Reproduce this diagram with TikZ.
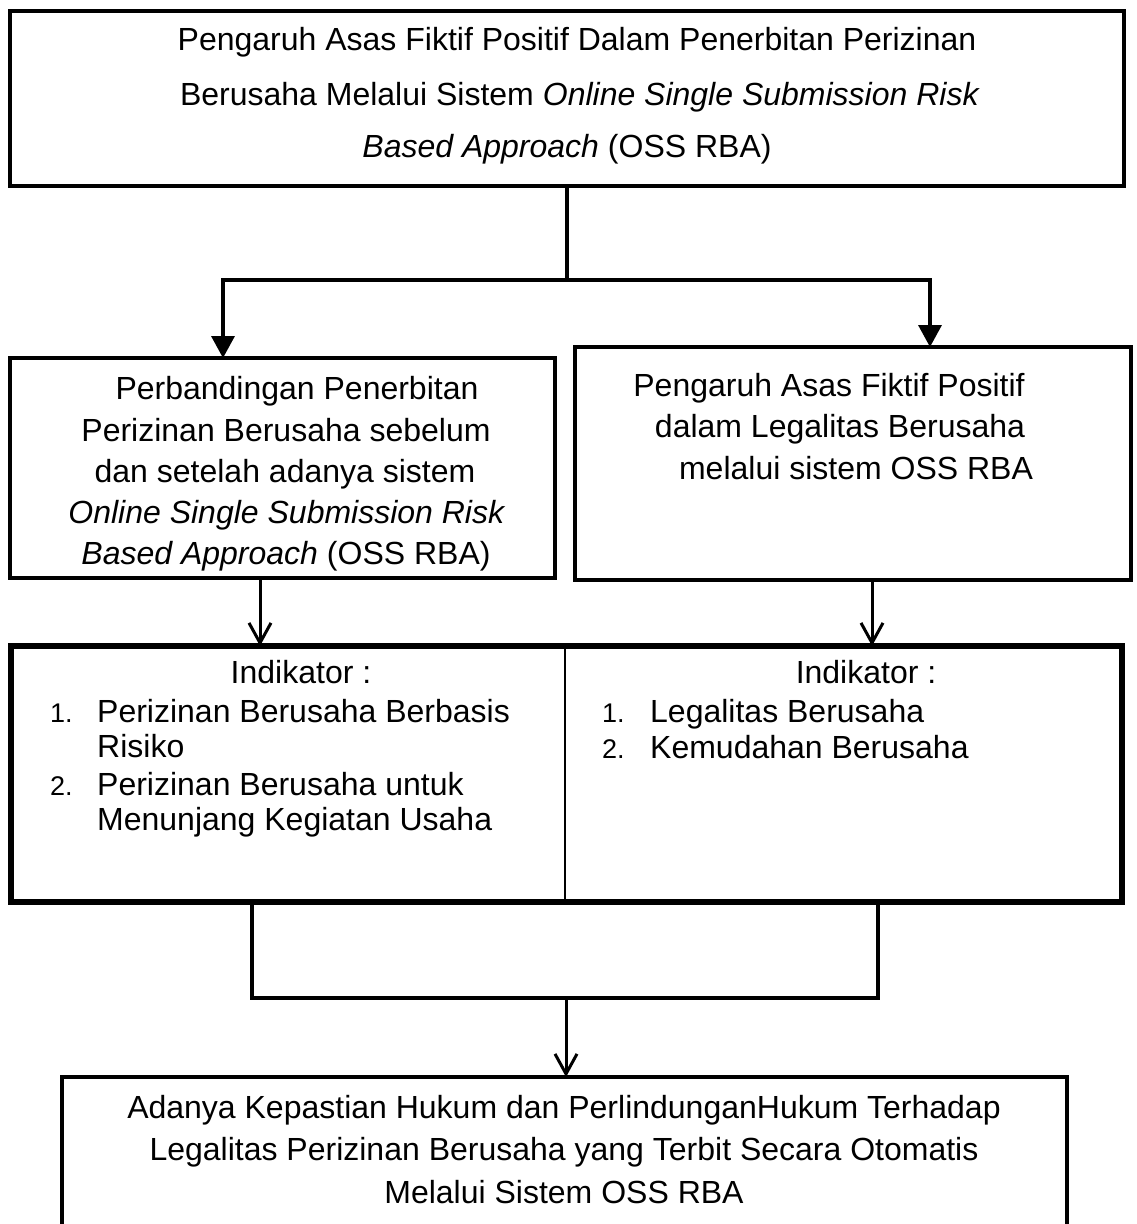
\documentclass[tikz,border=0pt]{standalone}
\usepackage{fontspec}
\setmainfont{Liberation Sans}
\usetikzlibrary{arrows.meta}
\begin{document}
\begin{tikzpicture}[x=1pt,y=-1pt,
  box/.style={draw, line width=3.5pt, inner sep=0pt, outer sep=0pt},
  txt/.style={inner sep=0pt, font=\fontsize{32}{41.5}\selectfont},
  numtxt/.style={inner sep=0pt, font=\fontsize{27}{35}\selectfont},
  conn/.style={line width=3.5pt},
  tri/.style={{Triangle[length=22pt,width=23pt]}-{Triangle[length=22pt,width=23pt]}},
  barb/.style={line width=3pt, -{Straight Barb[length=20pt,width=22pt]}}]
\useasboundingbox (0,0) rectangle (1136,1224);
\clip (0,0) rectangle (1136,1224);

% top box
\node[box, line width=4pt, minimum width=1114pt, minimum height=175pt] (top) at (567,98.5) {};
\node[txt, anchor=base] (t1) at (577,50) {Pengaruh Asas Fiktif Positif Dalam Penerbitan Perizinan};
\node[txt, anchor=base] (t2) at (580,105) {Berusaha Melalui Sistem \textit{Online Single Submission Risk}};
\node[txt, anchor=base] (t3) at (567,157) {\textit{Based Approach} (OSS RBA)};

% middle boxes
\node[box, minimum width=545pt, minimum height=220pt] (midL) at (282.5,468) {};
\node[box, minimum width=556pt, minimum height=233pt] (midR) at (853,463.5) {};
\node[txt, anchor=base] (tL1) at (297,399) {Perbandingan Penerbitan};
\node[txt, anchor=base] (tL2) at (286,441) {Perizinan Berusaha sebelum};
\node[txt, anchor=base] (tL3) at (285,482) {dan setelah adanya sistem};
\node[txt, anchor=base] (tL4) at (287,523) {\textit{Online Single Submission Risk}};
\node[txt, anchor=base] (tL5) at (286,564) {\textit{Based Approach} (OSS RBA)};
\node[txt, anchor=base] (tR1) at (829,396) {Pengaruh Asas Fiktif Positif};
\node[txt, anchor=base] (tR2) at (840,437.5) {dalam Legalitas Berusaha};
\node[txt, anchor=base] (tR3) at (856,479) {melalui sistem OSS RBA};

% connectors from top
\coordinate (jl) at (223,280);
\coordinate (jr) at (930,280);
\draw[conn] (top.south) -- (top.south |- jl);
\draw[conn, tri] (jl |- midL.north) -- (jl) -- (jr) -- (jr |- midR.north);

% indicator box
\node[box, line width=6pt, minimum width=1111pt, minimum height=256pt] (ind) at (566.5,774) {};
\coordinate (dv) at (565,0);
\draw[line width=2pt] (dv |- ind.north) -- (dv |- ind.south);

\coordinate (aL) at (260,0);
\coordinate (aR) at (872,0);
\draw[barb] (aL |- midL.south) -- (aL |- ind.north);
\draw[barb] (aR |- midR.south) -- (aR |- ind.north);

\node[txt, anchor=base] (iL) at (301,683) {Indikator :};
\node[numtxt, anchor=base west] (n1) at (50,722) {1.};
\node[txt, anchor=north west, align=left, font=\fontsize{32}{35}\selectfont] (l1) at (97,699) {Perizinan Berusaha Berbasis\\Risiko};
\node[numtxt, anchor=base west] (n2) at (50,795) {2.};
\node[txt, anchor=north west, align=left, font=\fontsize{32}{35}\selectfont] (l2) at (97,772) {Perizinan Berusaha untuk\\Menunjang Kegiatan Usaha};

\node[txt, anchor=base] (iR) at (866,683) {Indikator :};
\node[numtxt, anchor=base west] (n3) at (602,722) {1.};
\node[txt, anchor=base west] (r1) at (650,722) {Legalitas Berusaha};
\node[numtxt, anchor=base west] (n4) at (602,758) {2.};
\node[txt, anchor=base west] (r2) at (650,758) {Kemudahan Berusaha};

% bottom box
\node[box, minimum width=1005pt, minimum height=170pt] (bot) at (564.5,1162) {};
\node[txt, align=center, anchor=north, font=\fontsize{32}{42.5}\selectfont] (bt) at (564,1095) {Adanya Kepastian Hukum dan PerlindunganHukum Terhadap\\Legalitas Perizinan Berusaha yang Terbit Secara Otomatis\\Melalui Sistem OSS RBA};

% U connector and final arrow
\coordinate (u1) at (252,0);
\coordinate (u2) at (878,0);
\coordinate (ub) at (566,998);
\draw[conn] (u1 |- ind.south) -- (u1 |- ub) -- (u2 |- ub) -- (u2 |- ind.south);
\draw[barb] (ub) -- (ub |- bot.north);
\end{tikzpicture}
\end{document}
